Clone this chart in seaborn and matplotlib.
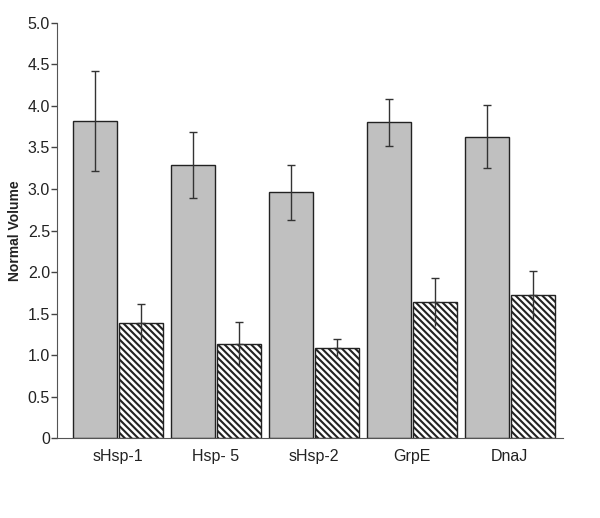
import matplotlib
matplotlib.use("Agg")
import matplotlib.pyplot as plt
import seaborn as sns
import pandas as pd

# values
proteins = ['sHsp-1', 'Hsp- 5', 'sHsp-2', 'GrpE', 'DnaJ']
gray_vals = [3.82, 3.29, 2.96, 3.80, 3.63]
gray_err = [0.60, 0.40, 0.33, 0.28, 0.38]
hatch_vals = [1.39, 1.14, 1.08, 1.64, 1.72]
hatch_err = [0.23, 0.26, 0.12, 0.29, 0.29]

df = pd.DataFrame({
    'protein': proteins * 2,
    'volume': gray_vals + hatch_vals,
    'group': ['A'] * len(proteins) + ['B'] * len(proteins),
})

sns.set_style("white")
plt.rcParams['font.family'] = ['Liberation Sans', 'DejaVu Sans']
plt.rcParams['hatch.linewidth'] = 1.5
plt.rcParams['hatch.color'] = '#111111'

fig = plt.figure(figsize=(6, 5.18), dpi=100)
ax = fig.add_axes([0.095, 0.154, 0.843, 0.802])

sns.barplot(data=df, x='protein', y='volume', hue='group',
            palette={'A': '#c0c0c0', 'B': 'white'}, width=0.94, gap=0.04,
            edgecolor='#222222', linewidth=1.0, errorbar=None, legend=False, ax=ax)

n = len(proteins)
bars = [p for p in ax.patches if p.get_height() > 0]
for i, p in enumerate(bars):
    cx = p.get_x() + p.get_width() / 2
    h = p.get_height()
    if i < n:
        e = gray_err[i]
        ax.errorbar(cx, h, yerr=e, fmt='none', ecolor='#333333', elinewidth=1, capsize=3, capthick=1)
    else:
        p.set_hatch('\\\\\\\\\\')
        e = hatch_err[i - n]
        ax.errorbar(cx, h, yerr=[[0], [e]], fmt='none', ecolor='#333333', elinewidth=1, capsize=3, capthick=1)
        ax.errorbar(cx, h, yerr=[[e], [0]], fmt='none', ecolor='#333333', elinewidth=1, capsize=0)

ax.set_xlim(-0.62, 4.54)
ax.set_ylim(0, 5.0)
ax.set_yticks([0, 0.5, 1.0, 1.5, 2.0, 2.5, 3.0, 3.5, 4.0, 4.5, 5.0])
ax.set_yticklabels(['0', '0.5', '1.0', '1.5', '2.0', '2.5', '3.0', '3.5', '4.0', '4.5', '5.0'])
ax.tick_params(axis='y', left=True, length=4, width=1, color='#444444', labelsize=11.5, pad=1)
ax.tick_params(axis='x', bottom=False, labelsize=11.5, pad=4)
for lab in ax.get_xticklabels() + ax.get_yticklabels():
    lab.set_color('#222222')

ax.set_xlabel('')
ax.set_ylabel('Normal Volume', fontsize=10, fontweight='bold', color='#222222', labelpad=4)

sns.despine(ax=ax)
ax.spines['left'].set_color('#555555')
ax.spines['bottom'].set_color('#555555')

fig.savefig('out.png', dpi=100)
